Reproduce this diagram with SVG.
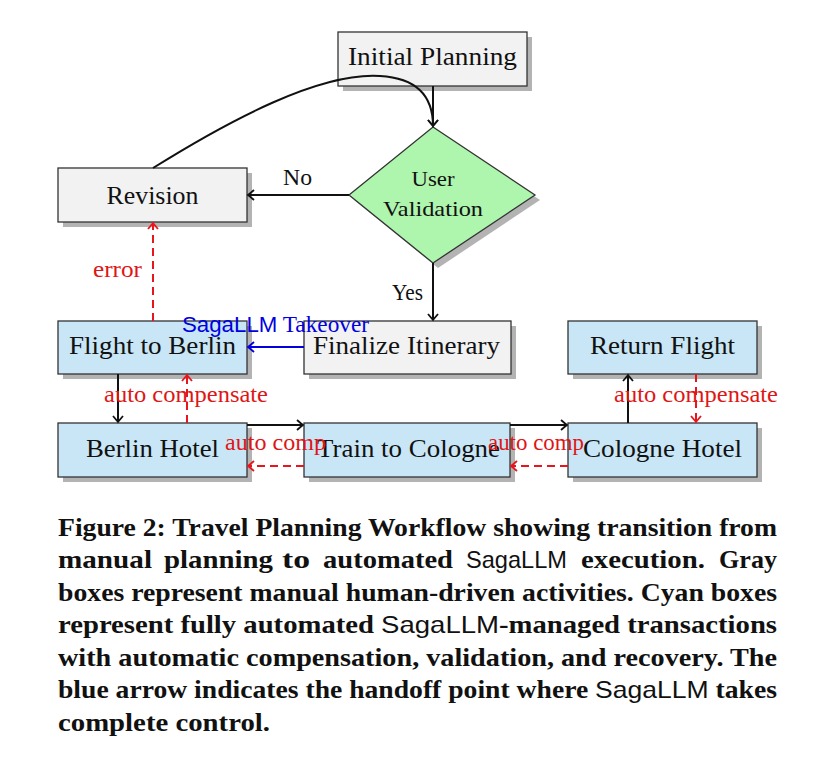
<svg xmlns="http://www.w3.org/2000/svg" width="834" height="772" viewBox="0 0 834 772">
<style>
.box{stroke:#333;stroke-width:1.3}
.gray{fill:#f2f2f2}
.cyan{fill:#c9e6f7}
.green{fill:#aef5ae}
.shadow{fill:#b3b3b3}
.nt{font-family:"Liberation Serif",serif;font-size:26px;fill:#111;text-anchor:middle}
.lb{font-family:"Liberation Serif",serif;font-size:23px}
.red{fill:#e01515}
.sans{font-family:"Liberation Sans",sans-serif;font-weight:normal}
.cap{font-family:"Liberation Serif",serif;font-size:25px;font-weight:bold;fill:#111}
.capsans{font-family:"Liberation Sans",sans-serif;font-size:24px;font-weight:normal;fill:#111}
.k{stroke:#111;stroke-width:2;fill:none}
.rd{stroke:#e8161c;stroke-width:2;fill:none;stroke-dasharray:8,5}
.bl{stroke:#0000e0;stroke-width:2;fill:none}
</style>
<defs>
<marker id="ak" markerUnits="userSpaceOnUse" markerWidth="14" markerHeight="14" viewBox="-8 -7 10 14" refX="0" refY="0" orient="auto">
<path d="M-6,-5 Q-1.5,-1.2 0,0 Q-1.5,1.2 -6,5" fill="none" stroke="#111" stroke-width="1.8"/>
</marker>
<marker id="ar" markerUnits="userSpaceOnUse" markerWidth="14" markerHeight="14" viewBox="-8 -7 10 14" refX="0" refY="0" orient="auto">
<path d="M-6,-5 Q-1.5,-1.2 0,0 Q-1.5,1.2 -6,5" fill="none" stroke="#e8161c" stroke-width="1.8"/>
</marker>
<marker id="ab" markerUnits="userSpaceOnUse" markerWidth="14" markerHeight="14" viewBox="-8 -7 10 14" refX="0" refY="0" orient="auto">
<path d="M-6,-5 Q-1.5,-1.2 0,0 Q-1.5,1.2 -6,5" fill="none" stroke="#0000e0" stroke-width="1.8"/>
</marker>
</defs>
<rect width="834" height="772" fill="#fff"/>

<g id="initial-planning">
<rect class="shadow" x="343" y="37" width="189" height="54"/>
<rect class="box gray" x="338" y="32" width="189" height="54"/>
<text class="nt" x="432.5" y="65" textLength="169" lengthAdjust="spacingAndGlyphs">Initial Planning</text>
</g>
<g id="revision">
<rect class="shadow" x="63" y="173" width="189" height="54"/>
<rect class="box gray" x="58" y="168" width="189" height="54"/>
<text class="nt" x="152.5" y="204" textLength="92" lengthAdjust="spacingAndGlyphs">Revision</text>
</g>
<g id="user-validation">
<polygon class="shadow" points="438,132 540,200 438,268 354,200"/>
<polygon class="box green" points="433,127 535,195 433,263 349,195"/>
<text class="nt" x="433" y="186" textLength="43" lengthAdjust="spacingAndGlyphs" style="font-size:22px">User</text>
<text class="nt" x="433" y="216" textLength="100" lengthAdjust="spacingAndGlyphs" style="font-size:22px">Validation</text>
</g>
<g id="finalize-itinerary">
<rect class="shadow" x="309" y="326" width="207" height="53"/>
<rect class="box gray" x="304" y="321" width="207" height="53"/>
<text class="nt" x="406.5" y="354" textLength="187" lengthAdjust="spacingAndGlyphs">Finalize Itinerary</text>
</g>
<g id="flight-to-berlin">
<rect class="shadow" x="63" y="326" width="189" height="53"/>
<rect class="box cyan" x="58" y="321" width="189" height="53"/>
<text class="nt" x="152.5" y="354" textLength="167" lengthAdjust="spacingAndGlyphs">Flight to Berlin</text>
</g>
<g id="return-flight">
<rect class="shadow" x="573" y="326" width="189" height="53"/>
<rect class="box cyan" x="568" y="321" width="189" height="53"/>
<text class="nt" x="662.5" y="354" textLength="145" lengthAdjust="spacingAndGlyphs">Return Flight</text>
</g>
<g id="berlin-hotel">
<rect class="shadow" x="63" y="428" width="189" height="54"/>
<rect class="box cyan" x="58" y="423" width="189" height="54"/>
<text class="nt" x="152.5" y="457" textLength="133" lengthAdjust="spacingAndGlyphs">Berlin Hotel</text>
</g>
<g id="train-to-cologne">
<rect class="shadow" x="309" y="428" width="206" height="54"/>
<rect class="box cyan" x="304" y="423" width="206" height="54"/>
<text class="nt" x="408.5" y="457" textLength="183" lengthAdjust="spacingAndGlyphs">Train to Cologne</text>
</g>
<g id="cologne-hotel">
<rect class="shadow" x="573" y="428" width="189" height="54"/>
<rect class="box cyan" x="568" y="423" width="189" height="54"/>
<text class="nt" x="662.5" y="457" textLength="159" lengthAdjust="spacingAndGlyphs">Cologne Hotel</text>
</g>

<g id="connectors">
<path class="k" d="M433,86 L433,126" marker-end="url(#ak)"/>
<path class="k" d="M153,168 C230,120 320,72 380,76 C415,78 433,95 433,126" marker-end="url(#ak)"/>
<path class="k" d="M349,195 L248,195" marker-end="url(#ak)"/>
<path class="k" d="M433,263 L433,320" marker-end="url(#ak)"/>
<path class="bl" d="M304,347 L248,347" marker-end="url(#ab)"/>
<path class="rd" d="M153,321 L153,223" marker-end="url(#ar)"/>
<path class="k" d="M118,374 L118,422" marker-end="url(#ak)"/>
<path class="rd" d="M187,423 L187,375" marker-end="url(#ar)"/>
<path class="k" d="M247,425 L303,425" marker-end="url(#ak)"/>
<path class="rd" d="M304,466 L248,466" marker-end="url(#ar)"/>
<path class="k" d="M510,425 L567,425" marker-end="url(#ak)"/>
<path class="rd" d="M568,466 L511,466" marker-end="url(#ar)"/>
<path class="k" d="M628,423 L628,375" marker-end="url(#ak)"/>
<path class="rd" d="M696,374 L696,422" marker-end="url(#ar)"/>
</g>

<g id="labels">
<text class="lb" x="283" y="185" fill="#111" textLength="29" lengthAdjust="spacingAndGlyphs">No</text>
<text class="lb" x="392" y="300" fill="#111" textLength="31" lengthAdjust="spacingAndGlyphs">Yes</text>
<text class="lb red" x="93" y="277" textLength="49" lengthAdjust="spacingAndGlyphs">error</text>
<text class="lb" x="182" y="332" fill="#0000e0" textLength="187" lengthAdjust="spacingAndGlyphs"><tspan class="sans" style="font-size:22px">SagaLLM</tspan> Takeover</text>
<text class="lb red" x="104" y="402" textLength="164" lengthAdjust="spacingAndGlyphs">auto compensate</text>
<text class="lb red" x="225" y="450" textLength="101" lengthAdjust="spacingAndGlyphs">auto comp</text>
<text class="lb red" x="488" y="450" textLength="96" lengthAdjust="spacingAndGlyphs">auto comp</text>
<text class="lb red" x="614" y="402" textLength="164" lengthAdjust="spacingAndGlyphs">auto compensate</text>
</g>

<g id="caption">
<text class="cap" x="58" y="536" textLength="719" lengthAdjust="spacingAndGlyphs">Figure 2: Travel Planning Workflow showing transition from</text>
<text class="cap" x="58" y="568" textLength="94" lengthAdjust="spacingAndGlyphs">manual</text>
<text class="cap" x="164" y="568" textLength="109" lengthAdjust="spacingAndGlyphs">planning</text>
<text class="cap" x="282" y="568" textLength="28" lengthAdjust="spacingAndGlyphs">to</text>
<text class="cap" x="323" y="568" textLength="130" lengthAdjust="spacingAndGlyphs">automated</text>
<text class="capsans" x="466" y="568" textLength="101" lengthAdjust="spacingAndGlyphs">SagaLLM</text>
<text class="cap" x="581" y="568" textLength="124" lengthAdjust="spacingAndGlyphs">execution.</text>
<text class="cap" x="719" y="568" textLength="58" lengthAdjust="spacingAndGlyphs">Gray</text>
<text class="cap" x="58" y="601" textLength="719" lengthAdjust="spacingAndGlyphs">boxes represent manual human-driven activities. Cyan boxes</text>
<text class="cap" x="58" y="633" textLength="719" lengthAdjust="spacingAndGlyphs">represent fully automated <tspan class="capsans">SagaLLM</tspan>-managed transactions</text>
<text class="cap" x="58" y="666" textLength="719" lengthAdjust="spacingAndGlyphs">with automatic compensation, validation, and recovery. The</text>
<text class="cap" x="58" y="698" textLength="719" lengthAdjust="spacingAndGlyphs">blue arrow indicates the handoff point where <tspan class="capsans">SagaLLM</tspan> takes</text>
<text class="cap" x="58" y="731" textLength="212" lengthAdjust="spacingAndGlyphs">complete control.</text>
</g>
</svg>
